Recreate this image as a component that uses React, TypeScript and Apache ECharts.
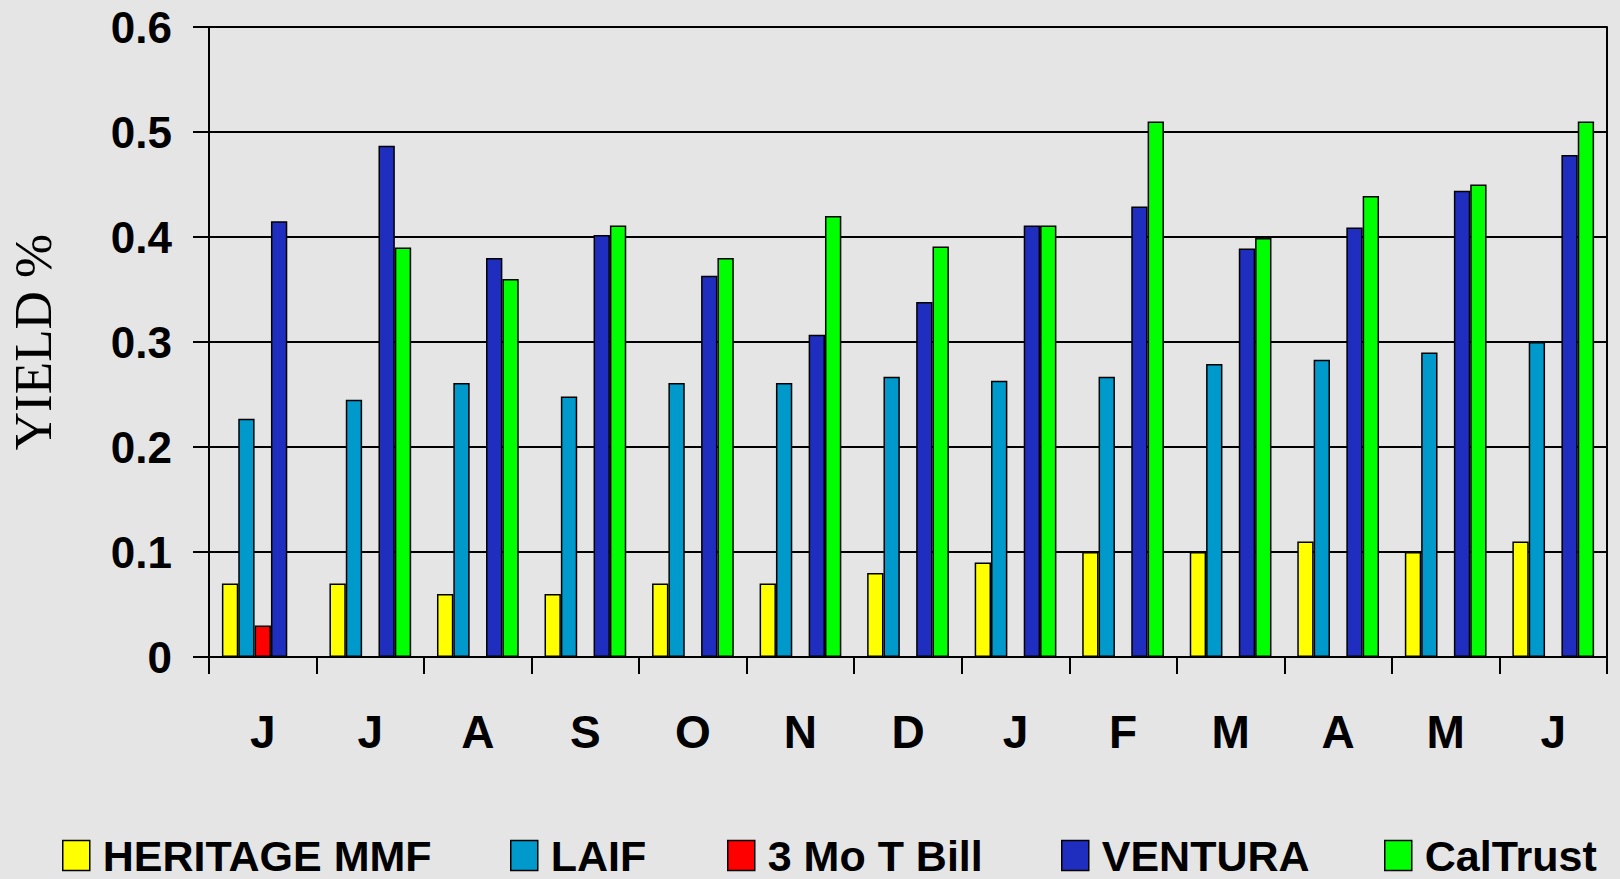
import React, { useEffect, useRef } from "react";
import * as echarts from "echarts";

const months = ["J", "J", "A", "S", "O", "N", "D", "J", "F", "M", "A", "M", "J"];
const heritage = [0.07, 0.07, 0.06, 0.06, 0.07, 0.07, 0.08, 0.09, 0.1, 0.1, 0.11, 0.1, 0.11];
const laif = [0.227, 0.245, 0.261, 0.248, 0.261, 0.261, 0.267, 0.263, 0.267, 0.279, 0.283, 0.29, 0.3];
const tbill = [0.03, null, null, null, null, null, null, null, null, null, null, null, null];
const ventura = [0.415, 0.487, 0.38, 0.402, 0.363, 0.307, 0.338, 0.411, 0.429, 0.389, 0.409, 0.444, 0.478];
const caltrust = [null, 0.39, 0.36, 0.411, 0.38, 0.42, 0.391, 0.411, 0.51, 0.399, 0.439, 0.45, 0.51];

const seriesNames = ["HERITAGE MMF", "LAIF", "3 Mo T Bill", "VENTURA", "CalTrust"];
const seriesColors = ["#FFFF00", "#0099CC", "#FF0000", "#1F2EBE", "#00FF00"];
const seriesData = [heritage, laif, tbill, ventura, caltrust];
const legendLefts = [62, 510, 727, 1061, 1384];

const SANS = "'Liberation Sans', Arial, Helvetica, sans-serif";
const SERIF = "'Liberation Serif', 'Times New Roman', serif";

export default function App() {
  const ref = useRef<HTMLDivElement>(null);
  useEffect(() => {
    if (!ref.current) return;
    const chart = echarts.init(ref.current, undefined, { renderer: "svg" });
    chart.setOption({
      animation: false,
      backgroundColor: "#e5e5e5",
      grid: {
        left: 209,
        right: 13,
        top: 27,
        bottom: 222,
        containLabel: false,
        outerBoundsMode: "none",
      },
      legend: seriesNames.map((n, i) => ({
        data: [n],
        left: legendLefts[i],
        top: 834,
        padding: 0,
        itemWidth: 27,
        itemHeight: 30,
        icon: "rect",
        selectedMode: false,
        itemStyle: { borderColor: "#000", borderWidth: 1.5 },
        textStyle: {
          fontFamily: SANS,
          fontWeight: "bold",
          fontSize: 43,
          lineHeight: 30,
          color: "#000",
          padding: [0, 0, 0, 8],
        },
      })),
      xAxis: {
        type: "category",
        data: months,
        axisLine: { show: true, lineStyle: { color: "#000", width: 2 } },
        axisTick: { show: true, length: 17, lineStyle: { color: "#000", width: 2 } },
        axisLabel: {
          margin: 52,
          fontFamily: SANS,
          fontWeight: "bold",
          fontSize: 46,
          color: "#000",
        },
      },
      yAxis: [
        {
          type: "value",
          min: 0,
          max: 0.6,
          interval: 0.1,
          name: "YIELD %",
          nameLocation: "middle",
          nameRotate: 90,
          nameGap: 150,
          nameTextStyle: {
            fontFamily: SERIF,
            fontSize: 53,
            color: "#000",
          },
          axisLine: { show: true, lineStyle: { color: "#000", width: 2 } },
          axisTick: { show: true, length: 16, lineStyle: { color: "#000", width: 2 } },
          splitLine: { show: true, lineStyle: { color: "#000", width: 2 } },
          axisLabel: {
            margin: 37,
            fontFamily: SANS,
            fontWeight: "bold",
            fontSize: 44,
            color: "#000",
            formatter: (v: number) => String(Math.round(v * 10) / 10),
          },
        },
        {
          type: "value",
          min: 0,
          max: 0.6,
          interval: 0.1,
          position: "right",
          axisLine: { show: true, lineStyle: { color: "#000", width: 2 } },
          axisTick: { show: false },
          axisLabel: { show: false },
          splitLine: { show: false },
        },
      ],
      series: seriesNames.map((n, i) => ({
        name: n,
        type: "bar",
        data: seriesData[i],
        barGap: "0%",
        barCategoryGap: "24%",
        itemStyle: { color: seriesColors[i], borderColor: "#000", borderWidth: 1.5 },
      })),
    });
    return () => chart.dispose();
  }, []);
  return (
    <div
      ref={ref}
      style={{ position: "absolute", left: 0, top: 0, width: 1620, height: 879 }}
    />
  );
}
